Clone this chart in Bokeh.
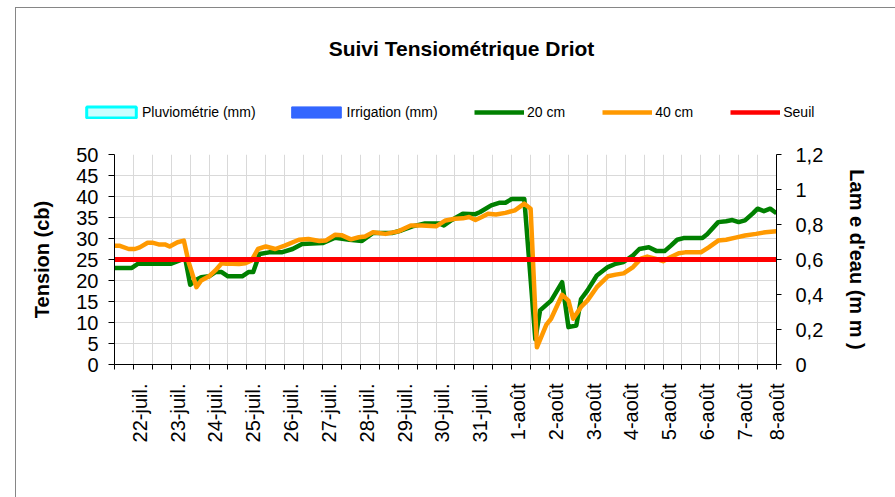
from math import pi
from bokeh.plotting import figure
from bokeh.layouts import column
from bokeh.models import (Range1d, LinearAxis, FixedTicker, SingleIntervalTicker,
                          CustomJSTickFormatter, Legend, LegendItem, Label)
from bokeh.embed import file_html
from bokeh.resources import INLINE

# ---- data (x = hours since 22-juil. 00:00) ----
h_20cm = [-12, -1, 3, 24, 31, 33, 36, 39, 43, 48, 52, 56, 60, 69, 73, 76, 80, 86, 94, 101,
          107, 120, 128, 137, 145, 152, 164, 170, 177, 185, 194, 197, 202, 209, 217, 220,
          227, 232, 236, 240, 248, 255, 258, 265, 272, 276, 281, 284, 288, 294, 301, 306,
          311, 317, 321, 327, 332, 337, 341, 345, 349, 361, 364, 371, 376, 380, 384, 388,
          393, 396, 400, 404, 408]
v_20cm = [23, 23, 24, 24, 25, 25, 19, 20, 20.8, 21, 22, 22, 21, 21, 22, 22, 26.3, 26.7, 26.7, 27.5,
          28.7, 28.9, 30.2, 29.7, 29.4, 31.3, 31.3, 31.9, 32.9, 33.6, 33.6, 33.1, 34.4, 35.9, 35.8, 36.3,
          37.9, 38.5, 38.5, 39.4, 39.4, 6, 12.9, 15.2, 19.6, 8.9, 9.3, 15.6, 17.6, 21.2, 23.2, 24,
          24.4, 26, 27.5, 27.9, 27, 27, 28.3, 29.7, 30.1, 30.1, 31, 33.9, 34.1, 34.4, 33.9, 34.3,
          36, 37.1, 36.5, 37.1, 36]

h_40cm = [-12, -9, -3, 1, 4, 9, 12, 16, 20, 23, 28, 32, 35, 40, 43, 48, 52, 56, 59, 63, 67, 71,
          75, 79, 84, 90, 96, 105, 111, 118, 122, 128, 132, 138, 143, 147, 152, 160, 168, 176,
          183, 192, 198, 204, 209, 213, 217, 221, 225, 230, 236, 242, 248, 252, 256, 262, 265,
          272, 276, 279, 284, 288, 294, 301, 306, 311, 317, 322, 326, 331, 336, 341, 346, 350,
          360, 365, 371, 376, 382, 388, 395, 401, 408]
v_40cm = [28.3, 28.3, 27.5, 27.5, 27.9, 29, 29, 28.6, 28.6, 28.1, 29.1, 29.5, 24.4, 18.4, 20, 21, 22.4, 24.1, 24, 24, 23.9, 24.1,
          24.8, 27.5, 28.1, 27.5, 28.3, 29.7, 29.9, 29.4, 29.5, 30.9, 30.8, 29.8, 30.3, 30.5, 31.5, 31.1, 31.7, 33.1,
          33.1, 32.9, 34.3, 34.7, 34.8, 35.1, 34.4, 35.1, 35.9, 35.7, 36.1, 36.7, 38.3, 37.1, 4.1, 9.5, 10.9,
          16.6, 15.2, 10.9, 13.7, 15.2, 18.4, 21, 21.4, 21.7, 23.2, 25.2, 25.7, 25.2, 24.6, 25.6, 26.5, 26.7,
          26.7, 27.9, 29.5, 29.7, 30.2, 30.7, 31.1, 31.5, 31.7]

seuil_cb = 25
pluie_h, pluie_mm = [], []
irrig_h, irrig_mm = [], []

day_labels = ["22-juil.", "23-juil.", "24-juil.", "25-juil.", "26-juil.", "27-juil.",
              "28-juil.", "29-juil.", "30-juil.", "31-juil.", "1-août", "2-août", "3-août",
              "4-août", "5-août", "6-août", "7-août", "8-août"]
tension_ticks = 5
lame_ticks = [0, 0.2, 0.4, 0.6, 0.8, 1.0, 1.2]

FONT = "Liberation Sans"
GRID = "#d9d9d9"
C_PLUIE_FILL, C_PLUIE_LINE = "#ccffff", "#00ffff"
C_IRRIG = "#3366ff"
C_20, C_40, C_SEUIL = "#008000", "#ff9900", "#ff0000"
LW = 4.5
NAN = float("nan")

W = 879
HT = 125
HM = 364


def no_align(fig):
    if "frame_align" in fig.properties():
        fig.frame_align = False


# ================= header figure (title + legend) =================
top = figure(width=W, height=HT, output_backend="svg", toolbar_location=None,
             x_range=Range1d(0, W), y_range=Range1d(0, HT),
             min_border=0, x_axis_location=None, y_axis_location=None)
no_align(top)
top.grid.visible = False
top.outline_line_color = None

top.add_layout(Label(x=445, y=85, text="Suivi Tensiométrique Driot", text_align="center",
                     text_baseline="middle", text_font=FONT, text_font_size="21px",
                     text_font_style="bold", text_color="black"))

# legend proxies (nothing visible is drawn)
lp = top.quad(left=[NAN], right=[NAN], top=[NAN], bottom=[NAN],
              fill_color=C_PLUIE_FILL, line_color=C_PLUIE_LINE, line_width=3)
li = top.quad(left=[NAN], right=[NAN], top=[NAN], bottom=[NAN],
              fill_color=C_IRRIG, line_color=C_IRRIG, line_width=1)
l20 = top.line([NAN], [NAN], line_color=C_20, line_width=LW)
l40 = top.line([NAN], [NAN], line_color=C_40, line_width=LW)
ls = top.line([NAN], [NAN], line_color=C_SEUIL, line_width=LW)


def make_legend(items, gw, x, spacing, standoff):
    lg = Legend(items=items, orientation="horizontal", location=(x, 13),
                glyph_width=gw, glyph_height=14, label_height=14, label_width=10,
                label_standoff=standoff, spacing=spacing, padding=0, margin=0,
                border_line_alpha=0, background_fill_alpha=0,
                label_text_font=FONT, label_text_font_size="14px",
                label_text_color="black")
    top.add_layout(lg, "center")


make_legend([LegendItem(label="Pluviométrie (mm)", renderers=[lp]),
             LegendItem(label="Irrigation (mm)", renderers=[li])], 62, 64, 29, 0)
make_legend([LegendItem(label="20 cm", renderers=[l20]),
             LegendItem(label="40 cm", renderers=[l40]),
             LegendItem(label="Seuil", renderers=[ls])], 50, 458, 37, 3)

# ================= main chart =================
p = figure(width=W, height=HM, output_backend="svg", toolbar_location=None,
           x_range=Range1d(-12, 408), y_range=Range1d(0, 50),
           min_border_left=98, min_border_right=119, min_border_top=21, min_border_bottom=133,
           x_axis_location=None, y_axis_location=None)
no_align(p)
p.outline_line_color = None

n_days = len(day_labels)
label_pos = [24 * i + 4 for i in range(n_days - 1)] + [24 * (n_days - 1)]
half_days = list(range(-12, 24 * (n_days - 1) + 1, 12))

xaxis = LinearAxis(ticker=FixedTicker(ticks=label_pos, minor_ticks=half_days))
xaxis.major_label_overrides = {pos: lab for pos, lab in zip(label_pos, day_labels)}
xaxis.major_label_orientation = pi / 2
xaxis.major_tick_out = 0
xaxis.major_tick_in = 0
xaxis.minor_tick_out = 5
xaxis.minor_tick_in = 0
xaxis.major_label_standoff = 14
p.add_layout(xaxis, "below")

yaxis = LinearAxis(ticker=SingleIntervalTicker(interval=tension_ticks, num_minor_ticks=0),
                   axis_label="Tension (cb)")
yaxis.major_tick_out = 6
yaxis.major_tick_in = 0
yaxis.major_label_standoff = 10
yaxis.axis_label_standoff = 20
p.add_layout(yaxis, "left")

p.extra_y_ranges = {"lame": Range1d(0, 1.2)}
raxis = LinearAxis(y_range_name="lame", ticker=FixedTicker(ticks=lame_ticks),
                   axis_label="Lam e d'eau (m m )",
                   formatter=CustomJSTickFormatter(code="""
                       const s = (Math.round(tick * 10) / 10).toString();
                       return s.replace('.', ',');"""))
raxis.major_tick_out = 5
raxis.major_tick_in = 0
raxis.minor_tick_out = 0
raxis.major_label_standoff = 14
raxis.axis_label_standoff = 20
p.add_layout(raxis, "right")

for ax in (xaxis, yaxis, raxis):
    ax.axis_line_color = "black"
    ax.major_tick_line_color = "black"
    ax.minor_tick_line_color = "black"
    ax.major_label_text_font = FONT
    ax.major_label_text_font_size = "20px"
    ax.major_label_text_color = "black"
    ax.axis_label_text_font = FONT
    ax.axis_label_text_font_size = "20px"
    ax.axis_label_text_font_style = "bold"
    ax.axis_label_text_color = "black"

p.xgrid.ticker = FixedTicker(ticks=half_days)
p.xgrid.grid_line_color = GRID
p.ygrid.ticker = SingleIntervalTicker(interval=tension_ticks, num_minor_ticks=0)
p.ygrid.grid_line_color = GRID

p.quad(left=pluie_h, right=pluie_h, top=pluie_mm, bottom=0, y_range_name="lame",
       fill_color=C_PLUIE_FILL, line_color=C_PLUIE_LINE, line_width=3)
p.quad(left=irrig_h, right=irrig_h, top=irrig_mm, bottom=0, y_range_name="lame",
       fill_color=C_IRRIG, line_color=C_IRRIG, line_width=1)
p.line(h_20cm, v_20cm, line_color=C_20, line_width=LW, line_join="round")
p.line(h_40cm, v_40cm, line_color=C_40, line_width=LW, line_join="round")
p.line([-12, 408], [seuil_cb, seuil_cb], line_color=C_SEUIL, line_width=5)

layout = column(top, p, spacing=0)
layout.margin = (7, 0, 0, 15)
layout.styles = {"border-left": "1px solid #868686", "border-top": "1px solid #868686"}

open("out.html", "w").write(file_html(layout, INLINE))
